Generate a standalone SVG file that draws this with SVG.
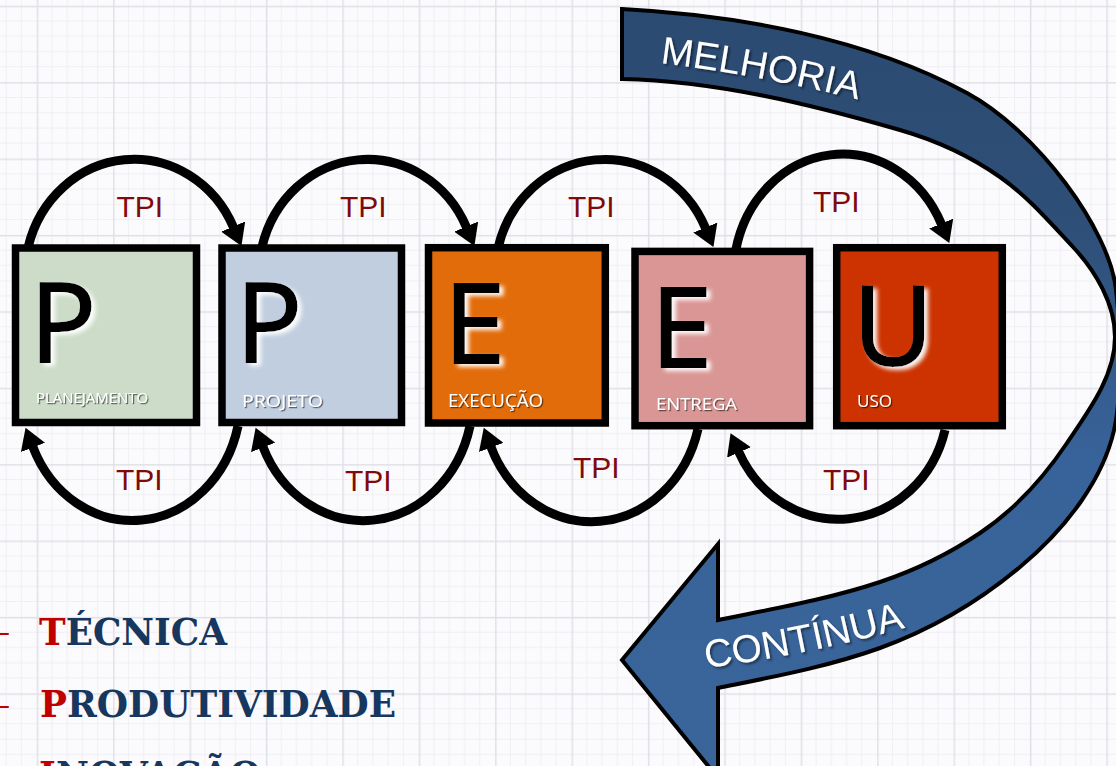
<svg xmlns="http://www.w3.org/2000/svg" width="1116" height="766" viewBox="0 0 1116 766">
<style>
.tpi{font-family:"Liberation Sans",Arial,sans-serif;font-size:30px;fill:#800A0A}
.big{font-family:"Open Sans","DejaVu Sans",sans-serif;font-size:110px;fill:#000;stroke:#000;stroke-width:2;filter:url(#glow)}
.lbl{font-family:"Open Sans","DejaVu Sans",sans-serif;fill:#fff;filter:url(#dshadow)}
.box{stroke:#000;stroke-width:7.5}
.arc{fill:none;stroke:#000;stroke-width:9;marker-end:url(#ah)}
.band{font-family:"Liberation Sans",Arial,sans-serif;fill:#fff;filter:url(#bshadow)}
.acr{font-family:"DejaVu Serif",serif;font-weight:bold;font-size:37px}
.dash{font-family:"Liberation Serif",serif;font-size:37px;fill:#C00000}
.red{fill:#C00000}
.navy{fill:#17375E}
</style>
<defs>
<pattern id="grid" x="36.7" y="5.7" width="76.4" height="76.4" patternUnits="userSpaceOnUse">
<path d="M15.28 0V76.4M30.56 0V76.4M45.84 0V76.4M61.12 0V76.4M0 15.28H76.4M0 30.56H76.4M0 45.84H76.4M0 61.12H76.4" stroke="#EFEFF4" stroke-width="1" fill="none"/>
<path d="M0.75 0V76.4M0 0.75H76.4" stroke="#E0E0E8" stroke-width="1.5" fill="none"/>
</pattern>
<marker id="ah" markerUnits="userSpaceOnUse" markerWidth="24" markerHeight="26" refX="1" refY="13" orient="auto">
<path d="M0,0 L21,13 L0,26 z" fill="#000"/>
</marker>
<filter id="glow" x="-20%" y="-20%" width="150%" height="150%">
<feDropShadow dx="4" dy="3" stdDeviation="2" flood-color="#fff" flood-opacity="0.95"/>
</filter>
<filter id="dshadow" x="-10%" y="-30%" width="130%" height="170%">
<feDropShadow dx="1.2" dy="1.2" stdDeviation="0.7" flood-color="#000" flood-opacity="0.6"/>
</filter>
<filter id="bshadow" x="-10%" y="-30%" width="130%" height="170%">
<feDropShadow dx="2" dy="2" stdDeviation="1.2" flood-color="#000" flood-opacity="0.45"/>
</filter>
<linearGradient id="bandg" x1="0" y1="0" x2="0" y2="766" gradientUnits="userSpaceOnUse">
<stop offset="0" stop-color="#2B4A71"/>
<stop offset="0.3" stop-color="#2E4F78"/>
<stop offset="0.6" stop-color="#38639A"/>
<stop offset="1" stop-color="#3A6599"/>
</linearGradient>
<path id="melPath" d="M660 63 Q765 76 868 102"/>
<path id="conPath" d="M706 668 Q810 655 918 624"/>
</defs>

<rect x="0" y="0" width="1116" height="766" fill="#FBFBFD"/>
<rect x="0" y="0" width="1116" height="766" fill="url(#grid)"/>

<g id="connectors">
<path class="arc" d="M28.2 247 A109.2 116 0 0 1 233.6 227.5"/>
<path class="arc" d="M262 247 A108.7 115.5 0 0 1 466.6 227.5"/>
<path class="arc" d="M498 248 A110 115.5 0 0 1 705.7 228.5"/>
<path class="arc" d="M735.8 250 A109.1 121 0 0 1 941.6 224.5"/>
<path class="arc" d="M238 426 A108.6 123 0 0 1 32.7 446.5"/>
<path class="arc" d="M470 426 A109.6 123 0 0 1 262.8 446.5"/>
<path class="arc" d="M698 429 A109.6 123 0 0 1 490.8 446.5"/>
<path class="arc" d="M945 430 A110.1 118 0 0 1 738.6 451.5"/>
<text class="tpi" x="116.5" y="216.5">TPI</text>
<text class="tpi" x="340" y="216.5">TPI</text>
<text class="tpi" x="568" y="216.5">TPI</text>
<text class="tpi" x="813" y="211.5">TPI</text>
<text class="tpi" x="116" y="490">TPI</text>
<text class="tpi" x="345" y="490.5">TPI</text>
<text class="tpi" x="573" y="478.3">TPI</text>
<text class="tpi" x="823" y="490">TPI</text>
</g>

<g id="node-planejamento">
<rect class="box" x="15.5" y="248" width="181" height="174.5" fill="#CCDCC8"/>
<text class="big" x="30" y="362">P</text>
<text class="lbl" x="36" y="403" font-size="15" textLength="112" lengthAdjust="spacingAndGlyphs">PLANEJAMENTO</text>
</g>
<g id="node-projeto">
<rect class="box" x="222" y="248" width="179.5" height="174.5" fill="#C1CEDF"/>
<text class="big" x="236" y="362">P</text>
<text class="lbl" x="242" y="407" font-size="17" textLength="81" lengthAdjust="spacingAndGlyphs">PROJETO</text>
</g>
<g id="node-execucao">
<rect class="box" x="428.5" y="247.7" width="176.8" height="175.3" fill="#E36C0A"/>
<text class="big" x="444" y="363">E</text>
<text class="lbl" x="448" y="407" font-size="17.5" textLength="95" lengthAdjust="spacingAndGlyphs">EXECUÇÃO</text>
</g>
<g id="node-entrega">
<rect class="box" x="635" y="251.4" width="174.6" height="174.3" fill="#D99694"/>
<text class="big" x="651" y="367">E</text>
<text class="lbl" x="656" y="409.5" font-size="17" textLength="81" lengthAdjust="spacingAndGlyphs">ENTREGA</text>
</g>
<g id="node-uso">
<rect class="box" x="836.7" y="247.7" width="165.6" height="178" fill="#CC3300"/>
<text class="big" x="853" y="365">U</text>
<text class="lbl" x="857" y="406.5" font-size="17" textLength="35" lengthAdjust="spacingAndGlyphs">USO</text>
</g>

<g id="melhoria-continua">
<path d="M622 9 C737 15 866 38 967 93 C1037 131 1110 230 1116 290 C1122 340 1122 380 1116 420 C1107 477 1064.5 530 1020 567 C978.6 601.6 930.8 629.6 880 648 C828 666.7 772 677 718 688 L718 778 L622 660 L718 544 L718 620 C772 609 827.8 599.4 880 582 C915 570.3 949.3 553.6 980 533 C1014.9 509.6 1043.5 477.9 1067 443 C1088.8 410.6 1115 376 1115 337 C1115 304 1095.6 271 1073 247 C1049.7 222.2 1027.8 196.5 1000 177 C969.7 155.8 935.5 140.2 900 130 C809.8 104.1 716 81 622 79 Z" fill="url(#bandg)" stroke="#000" stroke-width="4" stroke-linejoin="miter"/>
<text class="band" font-size="38.5"><textPath href="#melPath">MELHORIA</textPath></text>
<text class="band" font-size="39"><textPath href="#conPath">CONTÍNUA</textPath></text>
</g>

<g id="acronym">
<text class="dash" x="-10" y="643">–</text>
<text class="dash" x="-10" y="716">–</text>
<text class="acr" x="39" y="645" textLength="188" lengthAdjust="spacingAndGlyphs"><tspan class="red">T</tspan><tspan class="navy">ÉCNICA</tspan></text>
<text class="acr" x="40" y="717" textLength="356" lengthAdjust="spacingAndGlyphs"><tspan class="red">P</tspan><tspan class="navy">RODUTIVIDADE</tspan></text>
<text class="acr" x="39" y="788" textLength="222" lengthAdjust="spacingAndGlyphs"><tspan class="red">I</tspan><tspan class="navy">NOVAÇÃO</tspan></text>
</g>
</svg>
